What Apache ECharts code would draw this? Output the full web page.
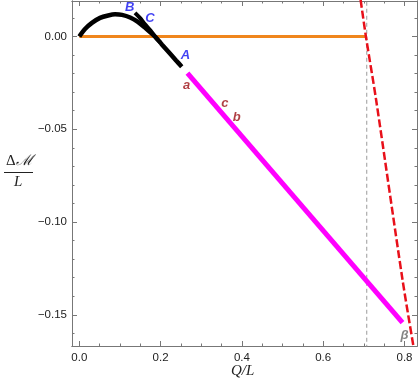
<!DOCTYPE html>
<html>
<head>
<meta charset="utf-8">
<script src="https://cdn.jsdelivr.net/npm/echarts@6.0.0/dist/echarts.min.js"></script>
<style>
    html, body { margin: 0; padding: 0; background: #fff; }
    #chart { width: 420px; height: 386px; }
</style>
</head>
<body>
<div id="chart"></div>
<script>
// tick labels
const xMajor = [0, 0.2, 0.4, 0.6, 0.8];
const xMinor = [0.05, 0.1, 0.15, 0.25, 0.3, 0.35, 0.45, 0.5, 0.55, 0.65, 0.7, 0.75];
const yMajor = [0, -0.05, -0.1, -0.15];
const yMinor = [0.01, -0.01, -0.02, -0.03, -0.04, -0.06, -0.07, -0.08, -0.09,
                -0.11, -0.12, -0.13, -0.14, -0.16];

// black curve, main branch (origin -> A)
const blackX = [0, 0.014, 0.031, 0.051, 0.071, 0.088, 0.105, 0.125, 0.144, 0.164, 0.174, 0.186, 0.203, 0.223, 0.238, 0.252];
const blackY = [0, 0.0040, 0.0073, 0.0100, 0.0113, 0.0119, 0.0116, 0.0102, 0.0078, 0.0043, 0.0024, 0, -0.0043, -0.0092, -0.0129, -0.0163];
// black curve, short branch (B -> C)
const branchX = [0.137, 0.149, 0.161, 0.174, 0.186, 0.199];
const branchY = [0.0127, 0.0100, 0.0067, 0.0035, 0, -0.0032];
// magenta branch (a -> beta)
const magentaX = [0.266, 0.795];
const magentaY = [-0.0198, -0.1542];
// orange line
const orangeX = [0, 0.7071];
const orangeY = [0, 0];
// red dashed curve
const redX = [0.692, 0.705, 0.730, 0.795, 0.822];
const redY = [0.0197, 0, -0.034, -0.131, -0.167];
// vertical gray dashed at Q/L = 1/sqrt(2)
const grayX = [0.7071, 0.7071];
const grayY = [0.03, -0.2];

// point labels
const labelPts = [
    { name: "B", x: 0.124, y: 0.0154, color: "#1010f0" },
    { name: "C", x: 0.174, y: 0.0099, color: "#1010f0" },
    { name: "A", x: 0.261, y: -0.0104, color: "#1010f0" },
    { name: "a", x: 0.264, y: -0.0262, color: "#9c0f14" },
    { name: "c", x: 0.358, y: -0.0360, color: "#9c0f14" },
    { name: "b", x: 0.387, y: -0.0438, color: "#9c0f14" },
    { name: "β", x: 0.800, y: -0.1612, color: "#666666" },
];

const X_MIN = -0.018, X_MAX = 0.8307;
const Y_MIN = -0.1668, Y_MAX = 0.0191;

const zip = (xs, ys) => xs.map((x, i) => [x, ys[i]]);
const fmtX = v => v.toFixed(1);
const fmtY = v => v.toFixed(2).replace("-", "\u2212");

function xAxisDef(pos, ticks, len, labels) {
    return {
        type: "value", position: pos, min: X_MIN, max: X_MAX,
        axisLine: { show: true, onZero: false, lineStyle: { color: "#777", width: 1 } },
        axisTick: { show: true, inside: true, length: len, customValues: ticks, lineStyle: { color: "#777" } },
        axisLabel: labels
            ? { show: true, customValues: ticks, formatter: fmtX, color: "#222", fontSize: 11.5, fontFamily: "Liberation Sans", margin: 6 }
            : { show: false },
        splitLine: { show: false },
    };
}

function yAxisDef(pos, ticks, len, labels) {
    return {
        type: "value", position: pos, min: Y_MIN, max: Y_MAX,
        axisLine: { show: true, onZero: false, lineStyle: { color: "#777", width: 1 } },
        axisTick: { show: true, inside: true, length: len, customValues: ticks, lineStyle: { color: "#777" } },
        axisLabel: labels
            ? { show: true, customValues: ticks, formatter: fmtY, color: "#222", fontSize: 11.5, fontFamily: "Liberation Sans", margin: 5 }
            : { show: false },
        splitLine: { show: false },
    };
}

const chart = echarts.init(document.getElementById("chart"));

chart.setOption({
    animation: false,
    grid: { left: 72, right: 3, top: 1, bottom: 40, containLabel: false },
    xAxis: [
        xAxisDef("bottom", xMajor, 5, true),
        xAxisDef("bottom", xMinor, 2.5, false),
        xAxisDef("top", xMajor, 5, false),
        xAxisDef("top", xMinor, 2.5, false),
    ],
    yAxis: [
        yAxisDef("left", yMajor, 5, true),
        yAxisDef("left", yMinor, 2.5, false),
        yAxisDef("right", yMajor, 5, false),
        yAxisDef("right", yMinor, 2.5, false),
    ],
    series: [
        {
            type: "line", data: zip(grayX, grayY), showSymbol: false, silent: true,
            lineStyle: { color: "#9a9a9a", width: 1, type: [4, 3] },
        },
        {
            type: "line", data: zip(orangeX, orangeY), showSymbol: false,
            lineStyle: { color: "#f0861c", width: 3 },
        },
        {
            type: "line", data: zip(redX, redY), showSymbol: false, smooth: 0.3,
            lineStyle: { color: "#e8101a", width: 2.5, type: [8, 3] },
        },
        {
            type: "line", data: zip(magentaX, magentaY), showSymbol: false,
            lineStyle: { color: "#ff00ff", width: 5 },
        },
        {
            type: "line", data: zip(blackX, blackY), showSymbol: false, smooth: 0.3,
            lineStyle: { color: "#000", width: 4.5 },
        },
        {
            type: "line", data: zip(branchX, branchY), showSymbol: false, smooth: 0.3,
            lineStyle: { color: "#000", width: 4 },
        },
        {
            type: "scatter", symbolSize: 0, silent: true,
            data: labelPts.map(p => ({
                value: [p.x, p.y], name: p.name,
                label: { color: p.color },
            })),
            label: {
                show: true, position: "inside", formatter: "{b}",
                fontSize: 13, fontStyle: "italic", fontWeight: "bold",
                fontFamily: "Liberation Sans",
            },
        },
    ],
    graphic: [
        {
            type: "text", left: 6, top: 154,
            style: {
                text: "{u|Δ}{i|ℳ}",
                rich: {
                    u: { font: "15px 'Liberation Serif'", fill: "#222" },
                    i: { font: "italic 15px 'Liberation Serif'", fill: "#222" },
                },
            },
        },
        {
            type: "line", shape: { x1: 4, y1: 172.5, x2: 33, y2: 172.5 },
            style: { stroke: "#222", lineWidth: 1 },
        },
        {
            type: "text", left: 14, top: 175,
            style: { text: "L", font: "italic 15px 'Liberation Serif'", fill: "#222" },
        },
        {
            type: "text", left: 231, top: 364,
            style: { text: "Q/L", font: "italic 15px 'Liberation Serif'", fill: "#222" },
        },
    ],
});
</script>
</body>
</html>
